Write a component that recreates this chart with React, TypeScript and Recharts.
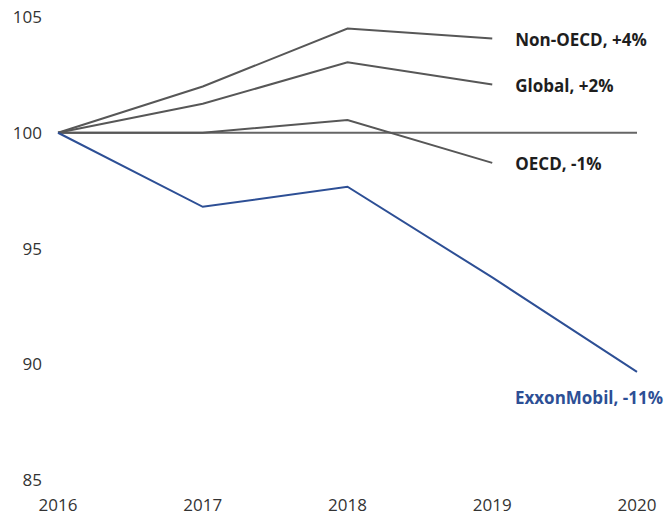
import React from 'react';
import { LineChart, Line, XAxis, YAxis, ReferenceLine, LabelList } from 'recharts';

const years = [2016, 2017, 2018, 2019, 2020];
const nonOecd = [100, 102.0, 104.5, 104.07, null];
const global = [100, 101.25, 103.04, 102.08, null];
const oecd = [100, 100.0, 100.55, 98.7, null];
const exxon = [100, 96.8, 97.67, 93.75, 89.67];
const yTicks = [85, 90, 95, 100, 105];

const labels = {
  nonOecd: 'Non-OECD, +4%',
  global: 'Global, +2%',
  oecd: 'OECD, -1%',
  exxon: 'ExxonMobil, -11%',
};

const data = years.map((year, i) => ({
  year,
  nonOecd: nonOecd[i],
  global: global[i],
  oecd: oecd[i],
  exxon: exxon[i],
}));

const FONT = '"Open Sans", "Noto Sans", sans-serif';
const GRAY = '#575757';
const BLUE = '#2d4f95';

const endLabel = (series: (number | null)[], text: string, color: string, below = false) => {
  const last = series.reduce((acc: number, v, i) => (v != null ? i : acc), 0);
  return (props: any) => {
    const { x, y, index } = props;
    if (index !== last) return null;
    if (below) {
      return (
        <text x={x + 26} y={y + 26} textAnchor="end" dominantBaseline="central"
          fontFamily={FONT} fontSize={17} fontWeight={700} fill={color}>
          {text}
        </text>
      );
    }
    return (
      <text x={x + 23} y={y + 1} textAnchor="start" dominantBaseline="central"
        fontFamily={FONT} fontSize={17} fontWeight={700} fill={color}>
        {text}
      </text>
    );
  };
};

export default function App() {
  return (
    <div style={{ width: 667, height: 518, background: '#fff' }}>
      <style>{'body{margin:0;background:#fff}'}</style>
      <LineChart width={667} height={518} data={data} margin={{ top: 17, right: 30, bottom: 0, left: 0 }}>
        <XAxis
          dataKey="year"
          axisLine={false}
          tickLine={false}
          tickMargin={13}
          height={38}
          interval={0}
          tick={{ fill: '#333', fontSize: 17, fontFamily: FONT }}
        />
        <YAxis
          domain={[85, 105]}
          ticks={yTicks}
          axisLine={false}
          tickLine={false}
          tickMargin={10}
          width={58}
          tick={{ fill: '#333', fontSize: 17, fontFamily: FONT }}
        />
        <ReferenceLine y={100} stroke="#666" strokeWidth={2} />
        <Line dataKey="nonOecd" stroke={GRAY} strokeWidth={2} dot={false} isAnimationActive={false}>
          <LabelList dataKey="nonOecd" content={endLabel(nonOecd, labels.nonOecd, '#1e1e1e')} />
        </Line>
        <Line dataKey="global" stroke={GRAY} strokeWidth={2} dot={false} isAnimationActive={false}>
          <LabelList dataKey="global" content={endLabel(global, labels.global, '#1e1e1e')} />
        </Line>
        <Line dataKey="oecd" stroke={GRAY} strokeWidth={2} dot={false} isAnimationActive={false}>
          <LabelList dataKey="oecd" content={endLabel(oecd, labels.oecd, '#1e1e1e')} />
        </Line>
        <Line dataKey="exxon" stroke={BLUE} strokeWidth={2} dot={false} isAnimationActive={false}>
          <LabelList dataKey="exxon" content={endLabel(exxon, labels.exxon, BLUE, true)} />
        </Line>
      </LineChart>
    </div>
  );
}
